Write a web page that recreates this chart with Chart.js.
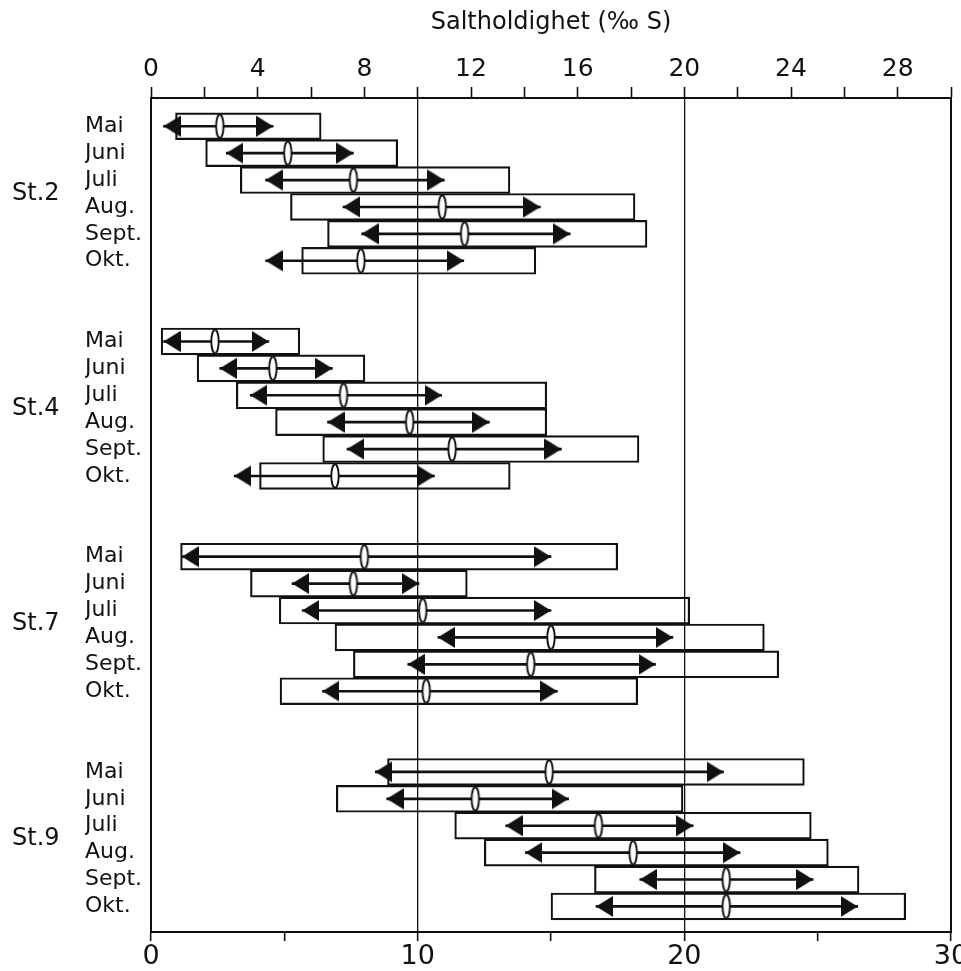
<!DOCTYPE html>
<html>
<head>
<meta charset="utf-8">
<title>Saltholdighet</title>
<script src="https://cdn.jsdelivr.net/npm/chart.js@4.4.0/dist/chart.umd.min.js"></script>
<style>
  html, body { margin: 0; padding: 0; background: #fff; }
  #wrap { width: 961px; height: 971px; }
</style>
</head>
<body>
<div id="wrap"><canvas id="saltChart"></canvas></div>
<script>
// Kategorier
const months = ['Mai', 'Juni', 'Juli', 'Aug.', 'Sept.', 'Okt.'];
const stations = ['St.2', 'St.4', 'St.7', 'St.9'];

// Variasjonsbredde (min - maks), 6 maaneder per stasjon: St.2, St.4, St.7, St.9
const rangeMin = [
  0.92, 2.05, 3.35, 5.23, 6.62, 5.65,
  0.38, 1.73, 3.2, 4.67, 6.44, 4.07,
  1.11, 3.73, 4.81, 6.9, 7.59, 4.84,
  8.87, 6.95, 11.39, 12.5, 16.63, 15.0
];
const rangeMax = [
  6.38, 9.25, 13.46, 18.15, 18.6, 14.43,
  5.58, 8.02, 14.84, 14.84, 18.3, 13.47,
  17.5, 11.86, 20.2, 23.0, 23.54, 18.25,
  24.5, 19.95, 24.76, 25.4, 26.55, 28.3
];

// Middelverdi +/- standardavvik (pilene)
const sdLow = [
  0.47, 2.82, 4.3, 7.2, 7.9, 4.3,
  0.47, 2.58, 3.72, 6.62, 7.35, 3.12,
  1.16, 5.29, 5.67, 10.76, 9.63, 6.43,
  8.41, 8.84, 13.3, 14.04, 18.33, 16.69
];
const sdHigh = [
  4.58, 7.59, 11.0, 14.6, 15.72, 11.73,
  4.42, 6.8, 10.9, 12.69, 15.39, 10.63,
  15.0, 10.05, 15.0, 19.57, 18.92, 15.24,
  21.47, 15.66, 20.33, 22.09, 24.83, 26.5
];

// Middelverdi (ellipsen)
const meanVal = [
  2.58, 5.13, 7.59, 10.92, 11.76, 7.87,
  2.4, 4.57, 7.22, 9.7, 11.29, 6.9,
  8.0, 7.59, 10.19, 15.0, 14.24, 10.32,
  14.93, 12.16, 16.78, 18.08, 21.57, 21.57
];

// Tick-etiketter
const bottomLabels = [0, 10, 20, 30];
const topLabels = [0, 4, 8, 12, 16, 20, 24, 28];

const ink = '#111';
const fontFamily = "'DejaVu Sans', 'Liberation Sans', Arial, sans-serif";
Chart.defaults.font.family = fontFamily;
Chart.defaults.color = ink;

// rad-nummer: 6 rader per stasjon, 2 tomme rader mellom stasjonene
function rowOf(i) {
  return Math.floor(i / 6) * 8 + (i % 6);
}
const rowPositions = rangeMin.map((v, i) => rowOf(i));
const stationPositions = stations.map((s, i) => i * 8 + 2.5);

// pilhode, spissen i midten av bildet (peker mot hoyre)
function makeArrowHead() {
  const L = 17, H = 21;
  const c = document.createElement('canvas');
  c.width = 2 * L;
  c.height = H + 2;
  const g = c.getContext('2d');
  g.beginPath();
  g.moveTo(0, 1);
  g.lineTo(L, 1 + H / 2);
  g.lineTo(0, 1 + H);
  g.closePath();
  g.fillStyle = ink;
  g.fill();
  return c;
}

function makeEllipse() {
  const c = document.createElement('canvas');
  c.width = 12;
  c.height = 28;
  const g = c.getContext('2d');
  g.beginPath();
  g.ellipse(6, 14, 3.7, 11.8, 0, 0, Math.PI * 2);
  g.fillStyle = '#fff';
  g.fill();
  g.lineWidth = 1.9;
  g.strokeStyle = ink;
  g.stroke();
  return c;
}

const headImg = makeArrowHead();
const ellipseImg = makeEllipse();

const boxData = rangeMin.map((lo, i) => ({ x: [lo, rangeMax[i]], y: rowPositions[i] }));
const shaftData = sdLow.map((lo, i) => ({ x: [lo, sdHigh[i]], y: rowPositions[i] }));
const leftHeadData = sdLow.map((v, i) => ({ x: v, y: rowPositions[i] }));
const rightHeadData = sdHigh.map((v, i) => ({ x: v, y: rowPositions[i] }));
const meanData = meanVal.map((v, i) => ({ x: v, y: rowPositions[i] }));

const rowAxis = {
  min: -1.05,
  max: 29.95,
  reverse: true,
  bounds: 'data',
  offset: false
};

new Chart(document.getElementById('saltChart'), {
  type: 'bar',
  data: {
    datasets: [
      {
        label: 'Variasjonsbredde',
        data: boxData,
        indexAxis: 'y',
        grouped: false,
        backgroundColor: 'rgba(0,0,0,0)',
        borderColor: ink,
        borderWidth: 1.5,
        borderSkipped: false,
        barPercentage: 1,
        categoryPercentage: 1,
        xAxisID: 'x',
        yAxisID: 'y',
        order: 5
      },
      {
        label: 'Standardavvik',
        data: shaftData,
        indexAxis: 'y',
        grouped: false,
        backgroundColor: ink,
        borderWidth: 0,
        barThickness: 2,
        xAxisID: 'x',
        yAxisID: 'y',
        order: 4
      },
      {
        type: 'scatter',
        label: 'venstre',
        data: leftHeadData,
        pointStyle: headImg,
        pointRotation: 180,
        pointRadius: 5,
        xAxisID: 'x',
        yAxisID: 'y',
        order: 3
      },
      {
        type: 'scatter',
        label: 'hoyre',
        data: rightHeadData,
        pointStyle: headImg,
        pointRotation: 0,
        pointRadius: 5,
        xAxisID: 'x',
        yAxisID: 'y',
        order: 3
      },
      {
        type: 'scatter',
        label: 'Middel',
        data: meanData,
        pointStyle: ellipseImg,
        pointRadius: 5,
        xAxisID: 'x',
        yAxisID: 'y',
        order: 2
      }
    ]
  },
  options: {
    responsive: true,
    maintainAspectRatio: false,
    animation: false,
    layout: { padding: { left: 12, top: 0, right: 0, bottom: 0 } },
    plugins: {
      legend: { display: false },
      tooltip: { enabled: false }
    },
    scales: {
      x: {
        type: 'linear',
        axis: 'x',
        position: 'bottom',
        min: 0,
        max: 30,
        offset: false,
        afterBuildTicks: scale => {
          scale.ticks = [0, 5, 10, 15, 20, 25, 30].map(v => ({ value: v }));
        },
        ticks: {
          autoSkip: false,
          maxRotation: 0,
          callback: v => (bottomLabels.includes(v) ? String(v) : ''),
          font: { size: 27, lineHeight: 1 },
          padding: 2,
          color: ink
        },
        grid: {
          offset: false,
          color: ctx => (ctx.tick && (ctx.tick.value === 10 || ctx.tick.value === 20) ? ink : 'rgba(0,0,0,0)'),
          lineWidth: 1.3,
          tickColor: ink,
          tickLength: 9,
          tickWidth: 1.6
        },
        border: { color: ink, width: 2 },
        afterFit: scale => {
          scale.height = 39;
          scale.paddingLeft = 0;
          scale.paddingRight = 0;
        }
      },
      x2: {
        type: 'linear',
        axis: 'x',
        position: 'top',
        min: 0,
        max: 30,
        offset: false,
        afterBuildTicks: scale => {
          const t = [];
          for (let v = 0; v <= 30; v += 2) t.push({ value: v });
          scale.ticks = t;
        },
        ticks: {
          autoSkip: false,
          maxRotation: 0,
          callback: v => (topLabels.includes(v) ? String(v) : ''),
          font: { size: 25, lineHeight: 1 },
          padding: 5,
          color: ink
        },
        grid: {
          offset: false,
          drawOnChartArea: false,
          tickColor: ink,
          tickLength: 11,
          tickWidth: 1.6
        },
        border: { color: ink, width: 2 },
        title: {
          display: true,
          text: 'Saltholdighet (‰ S)',
          font: { size: 24 },
          color: ink,
          padding: { top: 8, bottom: 0 }
        },
        afterFit: scale => {
          scale.height = 98;
          scale.paddingLeft = 0;
          scale.paddingRight = 0;
        }
      },
      y: {
        type: 'linear',
        axis: 'y',
        position: 'left',
        ...rowAxis,
        afterBuildTicks: scale => {
          scale.ticks = rowPositions.map(v => ({ value: v }));
        },
        ticks: {
          autoSkip: false,
          crossAlign: 'far',
          callback: (v, i) => months[i % months.length],
          font: { size: 22, lineHeight: 1 },
          padding: 0,
          color: ink
        },
        grid: { offset: false, drawOnChartArea: false, drawTicks: false },
        border: { color: ink, width: 2 },
        afterFit: scale => {
          scale.width = 66;
        }
      },
      ys: {
        type: 'linear',
        axis: 'y',
        position: 'left',
        ...rowAxis,
        afterBuildTicks: scale => {
          scale.ticks = stationPositions.map(v => ({ value: v }));
        },
        ticks: {
          autoSkip: false,
          crossAlign: 'far',
          callback: (v, i) => stations[i],
          font: { size: 24, lineHeight: 1 },
          padding: 0,
          color: ink
        },
        grid: { display: false, drawTicks: false },
        border: { display: false },
        afterFit: scale => {
          scale.width = 73;
        }
      },
      yr: {
        type: 'linear',
        axis: 'y',
        position: 'right',
        ...rowAxis,
        ticks: { display: false },
        grid: { drawOnChartArea: false, drawTicks: false },
        border: { color: ink, width: 2 },
        afterFit: scale => {
          scale.width = 10;
        }
      }
    }
  }
});
</script>
</body>
</html>
